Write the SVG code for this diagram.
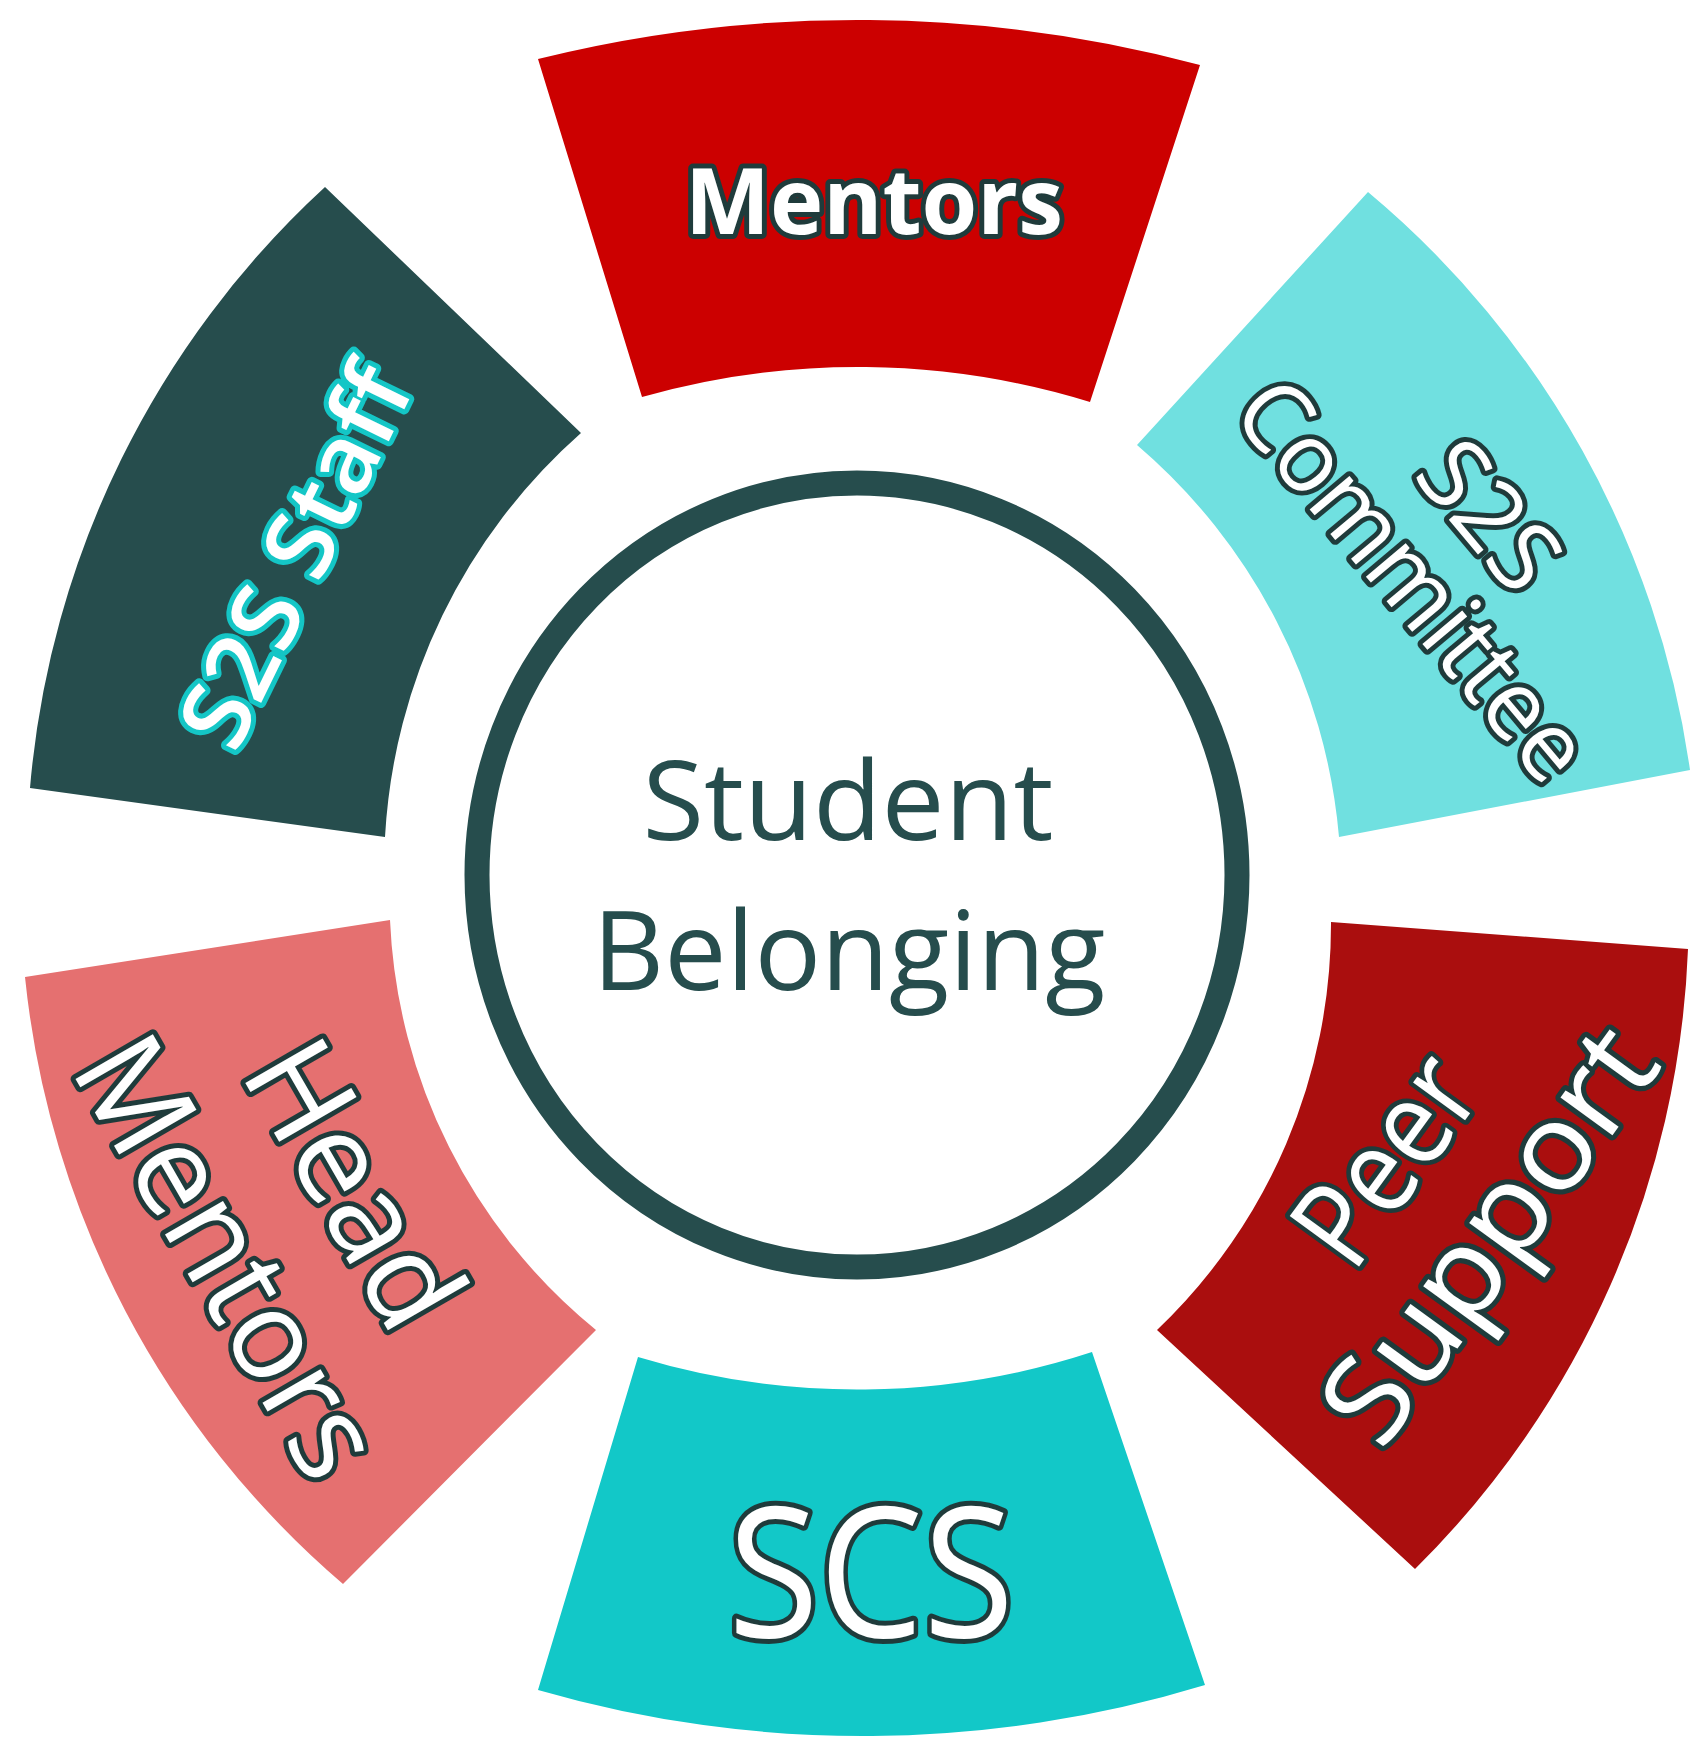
<svg xmlns="http://www.w3.org/2000/svg" width="1697" height="1747" viewBox="0 0 1697 1747">
<style>
.lbl{font-family:"Open Sans","Noto Sans","Liberation Sans",sans-serif;fill:#ffffff;stroke:#1f3b3b;stroke-width:10;paint-order:stroke fill;stroke-linejoin:round;text-anchor:middle}
.center{font-family:"Open Sans","Noto Sans","Liberation Sans",sans-serif;fill:#264d4d;text-anchor:middle;font-size:110px}
</style>
<rect width="1697" height="1747" fill="#ffffff"/>
<g id="connectors"></g>
<g id="node-mentors">
<path d="M538,59 A1325,1325 0 0 1 1200,65 L1090,402 A788,788 0 0 0 642,397 Z" fill="#cc0000"/>
<text class="lbl" x="874" y="234" font-size="91" font-weight="700" stroke-width="7" textLength="378" lengthAdjust="spacingAndGlyphs">Mentors</text>
</g>
<g id="node-s2s-staff">
<path d="M30,788 A922,922 0 0 1 325,187 L581,433 A582,582 0 0 0 385,837 Z" fill="#264d4d"/>
<text class="lbl" transform="translate(295,556) rotate(-64)" x="0" y="34" font-size="95" font-weight="600" style="stroke:#14c6c6;stroke-width:10" textLength="410" lengthAdjust="spacingAndGlyphs">S2S Staff</text>
</g>
<g id="node-s2s-committee">
<path d="M1368,192 A922,922 0 0 1 1690,770 L1339,837 A582,582 0 0 0 1137,445 Z" fill="#70e0e0"/>
<g transform="translate(1452,547) rotate(50)">
<text class="lbl" x="0" y="-15" font-size="97" stroke-width="12">S2S</text>
<text class="lbl" x="0" y="85" font-size="97" stroke-width="12" textLength="490" lengthAdjust="spacingAndGlyphs">Committee</text>
</g>
</g>
<g id="node-peer-support">
<path d="M1688,949 A922,922 0 0 1 1415,1569 L1157,1330 A560,560 0 0 0 1331,922 Z" fill="#aa0e0e"/>
<g transform="translate(1436,1196) rotate(-54)">
<text class="lbl" x="0" y="-21" font-size="120" stroke-width="10" textLength="225" lengthAdjust="spacingAndGlyphs">Peer</text>
<text class="lbl" x="0" y="107" font-size="120" stroke-width="10" textLength="480" lengthAdjust="spacingAndGlyphs">Support</text>
</g>
</g>
<g id="node-scs">
<path d="M1205,1685 A1171,1171 0 0 1 538,1690 L638,1357 A754,754 0 0 0 1092,1352 Z" fill="#12c8c8"/>
<text class="lbl" x="871" y="1637" font-size="182" stroke-width="11" textLength="286" lengthAdjust="spacingAndGlyphs">SCS</text>
</g>
<g id="node-head-mentors">
<path d="M343,1584 A922,922 0 0 1 25,977 L390,920 A560,560 0 0 0 596,1330 Z" fill="#e57070"/>
<g transform="translate(292,1220) rotate(60)">
<text class="lbl" x="0" y="-28" font-size="125" stroke-width="12">Head</text>
<text class="lbl" x="0" y="117" font-size="125" stroke-width="12" textLength="485" lengthAdjust="spacingAndGlyphs">Mentors</text>
</g>
</g>
<g id="node-student-belonging">
<ellipse cx="857" cy="875" rx="380" ry="392" fill="#ffffff" stroke="#264d4d" stroke-width="25"/>
<text class="center" x="848" y="840" textLength="411" lengthAdjust="spacingAndGlyphs">Student</text>
<text class="center" x="849" y="990" textLength="513" lengthAdjust="spacingAndGlyphs">Belonging</text>
</g>
</svg>
